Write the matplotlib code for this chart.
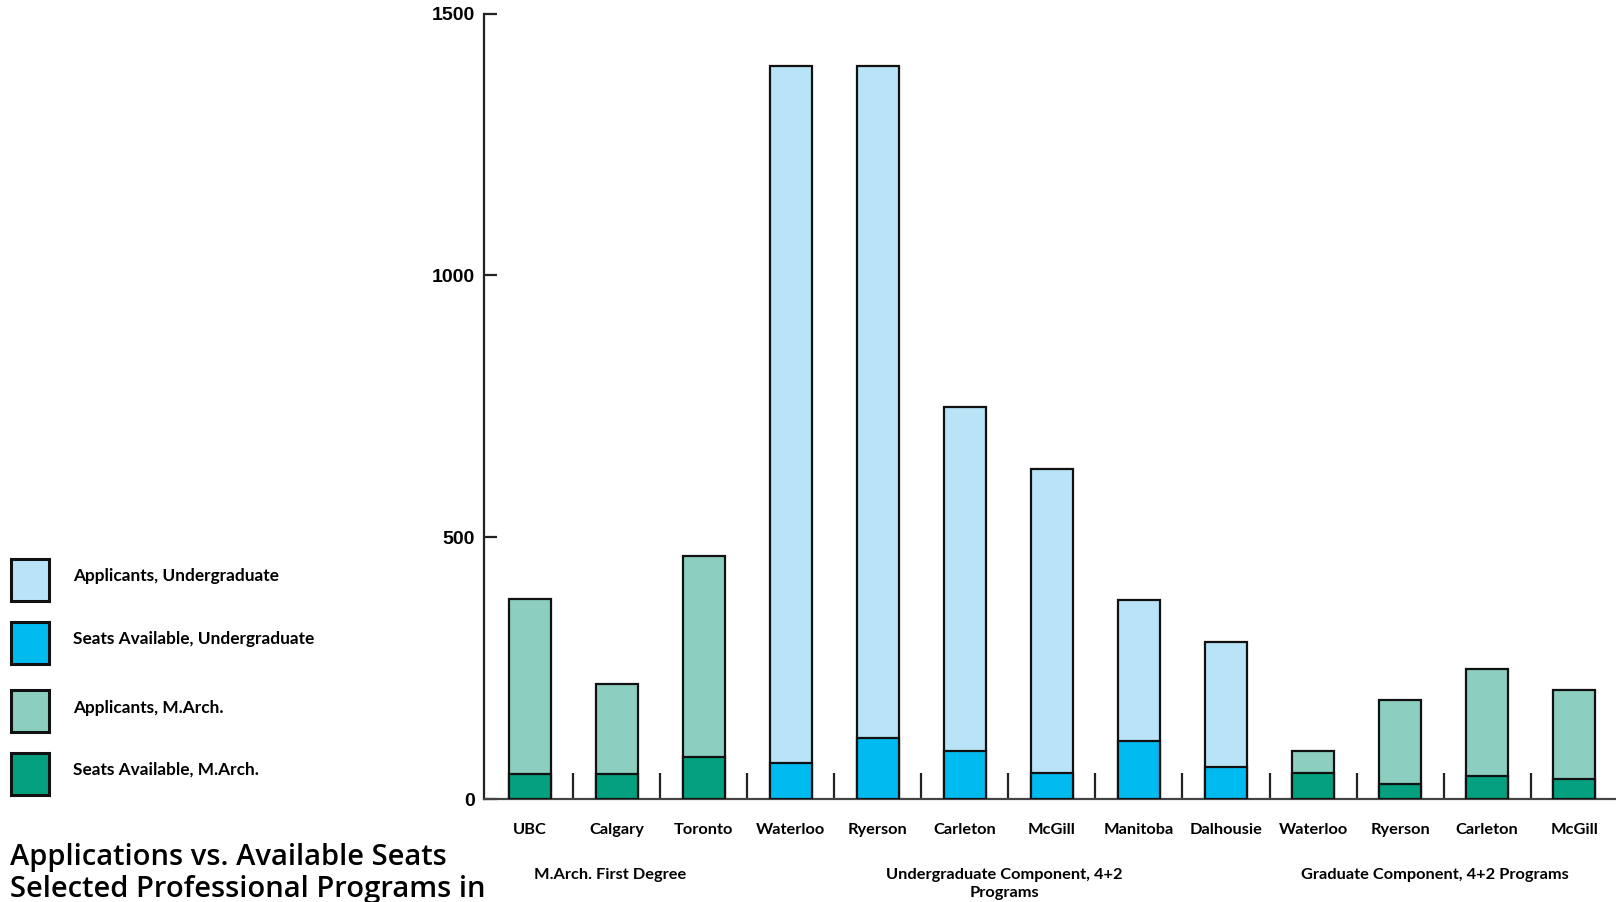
import matplotlib.pyplot as plt
from matplotlib.patches import Rectangle
import numpy as np

plt.rcParams['font.family'] = ['Lato', 'DejaVu Sans']

schools = ['UBC', 'Calgary', 'Toronto', 'Waterloo', 'Ryerson', 'Carleton', 'McGill',
           'Manitoba', 'Dalhousie', 'Waterloo', 'Ryerson', 'Carleton', 'McGill']
applicants = [382, 221, 464, 1400, 1400, 748, 630, 381, 301, 93, 189, 249, 209]
seats = [48, 48, 80, 70, 117, 92, 50, 111, 62, 51, 29, 44, 39]
kind = ['march', 'march', 'march', 'ug', 'ug', 'ug', 'ug', 'ug', 'ug',
        'march', 'march', 'march', 'march']
groups = ['M.Arch. First Degree', 'Undergraduate Component, 4+2\nPrograms',
          'Graduate Component, 4+2 Programs']
group_centers = [0.92, 5.45, 10.4]
legend_labels = ['Applicants, Undergraduate', 'Seats Available, Undergraduate',
                 'Applicants, M.Arch.', 'Seats Available, M.Arch.']

col = {'ug': ('#b9e4f8', '#00bbf0'), 'march': ('#8ccfc0', '#04a07f')}

fig = plt.figure(figsize=(16.16, 9.02), dpi=100)
ax = fig.add_axes([483.5/1616, 1 - 799.3/902, 1 - 483.5/1616, 785.8/902])

x = np.arange(len(schools))
w = 0.48
for i in x:
    light, dark = col[kind[i]]
    ax.bar(i, applicants[i], width=w, color=light, edgecolor='#111111', linewidth=1.6, zorder=2)
    ax.bar(i, seats[i], width=w, color=dark, edgecolor='#111111', linewidth=1.6, zorder=3)

ax.set_xlim(-0.53, 12.48)
ax.set_ylim(0, 1500)
ax.spines['top'].set_visible(False)
ax.spines['right'].set_visible(False)
ax.spines['left'].set_color('#222222')
ax.spines['left'].set_linewidth(1.6)
ax.spines['bottom'].set_color('#444444')
ax.spines['bottom'].set_linewidth(1.6)

ax.set_yticks([0, 500, 1000, 1500])
ax.set_yticklabels(['0', '500', '1000', '1500'], family=['Liberation Sans', 'DejaVu Sans'],
                   fontweight='bold', fontsize=14)
ax.tick_params(axis='y', direction='in', length=9, width=1.6, color='#222222', pad=6)

ax.set_xticks(x)
ax.set_xticklabels(schools, fontsize=11.8, fontweight='bold')
ax.tick_params(axis='x', which='major', length=0, pad=17)
ax.set_xticks(x[:-1] + 0.5, minor=True)
ax.tick_params(axis='x', which='minor', direction='in', length=18.5, width=1.6, color='#222222')

for g, c in zip(groups, group_centers):
    ax.text(c, -132, g, ha='center', va='top', fontsize=11.8, fontweight='bold',
            linespacing=1.35, clip_on=False)

# legend on the left
sq_y = [580, 643, 711, 774]
txt_y = [576, 639, 708, 770]
fills = ['#b9e4f8', '#00bbf0', '#8ccfc0', '#04a07f']
for yy, ty, fc, lab in zip(sq_y, txt_y, fills, legend_labels):
    fig.patches.append(Rectangle((11/1616, 1 - (yy + 21)/902), 38/1616, 42/902,
                                 transform=fig.transFigure, facecolor=fc,
                                 edgecolor='#111111', linewidth=2.2))
    fig.text(73/1616, 1 - ty/902, lab, ha='left', va='center', fontsize=12.4,
             fontweight='bold')

fig.text(10/1616, 1 - 858/902, 'Applications vs. Available Seats', ha='left', va='center',
         family=['Open Sans', 'DejaVu Sans'], fontsize=21, fontweight='semibold')
fig.text(10/1616, 1 - 889/902, 'Selected Professional Programs in', ha='left', va='center',
         family=['Open Sans', 'DejaVu Sans'], fontsize=21, fontweight='semibold')

fig.savefig('out.png', dpi=100)
